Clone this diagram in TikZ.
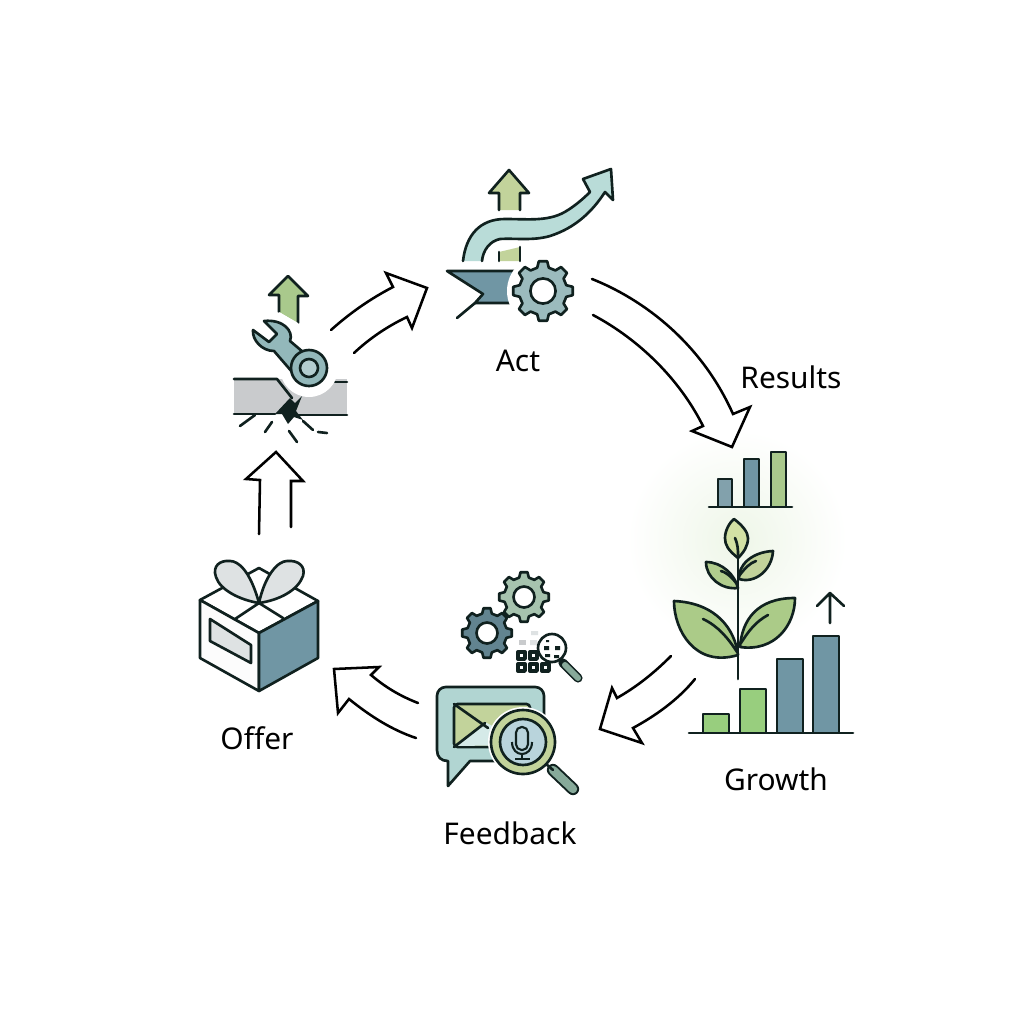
\documentclass[tikz,border=0pt]{standalone}
\usepackage{fontspec}
\setmainfont{Noto Sans}
\definecolor{ink}{HTML}{10211F}
\definecolor{slate}{HTML}{7096A4}
\definecolor{teal}{HTML}{93B8BA}
\definecolor{mint}{HTML}{B9DCD8}
\definecolor{sage}{HTML}{A9C98C}
\definecolor{olive}{HTML}{C2D39B}
\definecolor{leaf}{HTML}{ABCB88}
\definecolor{pale}{HTML}{D2E1A4}
\definecolor{ash}{HTML}{C9CBCD}
\definecolor{mist}{HTML}{DEE2E3}
\definecolor{glow}{HTML}{EEF6E8}
\definecolor{lens}{HTML}{B9D4DC}
\newcommand{\gearwheel}[4]{% x, y, radius, fill
  \begin{scope}[shift={(#1,#2)}]
    \draw[outline,fill=#4] (-14:0.8*#3) \foreach \a in {0,45,...,315} {
      -- (\a-14:0.8*#3) -- (\a-8:#3) -- (\a+8:#3) -- (\a+14:0.8*#3)} -- cycle;
    \draw[outline,fill=white] (0,0) circle (0.42*#3);
  \end{scope}}
\begin{document}
\begin{tikzpicture}[x=0.01cm,y=-0.01cm]
\tikzset{outline/.style = {draw=ink,line width=0.75pt,line join=round,line cap=round}}
\tikzset{blockarrow/.style = {draw=black,fill=white,line width=0.72pt,line join=miter,line cap=round}}
\tikzset{steplabel/.style = {font=\fontsize{8.5pt}{10pt}\selectfont,text=black,inner sep=0pt}}
\tikzset{thinbar/.style = {outline,line width=0.75pt}}
\useasboundingbox (0,0) rectangle (1024,1024);
\fill[white] (0,0) rectangle (1024,1024);
\shade[inner color=glow,outer color=white] (737,540) circle (110);
% labels
\node[steplabel] (act) at (518,361) {Act};
\node[steplabel] (results) at (791,377) {Results};
\node[steplabel] (growth) at (776,779) {Growth};
\node[steplabel] (feedback) at (510,833) {Feedback};
\node[steplabel] (offer) at (257,738) {Offer};
% block arrows
\draw[blockarrow] (592,279) .. controls (640,298) and (700,340) .. (733,414) -- (750,407) -- (732,447) -- (692,431) -- (703,426) .. controls (680,380) and (640,340) .. (593,315);
\draw[blockarrow] (671,656) .. controls (655,672) and (638,686) .. (617,698) -- (612,688) -- (600,729) -- (642,743) -- (633,728) .. controls (655,716) and (678,700) .. (695,679);
\draw[blockarrow] (418,703) .. controls (400,696) and (385,687) .. (371,675) -- (379,667) -- (334,669) -- (338,713) -- (349,699) .. controls (370,716) and (392,730) .. (416,738);
\draw[blockarrow] (259,534) -- (260,480) -- (246,479) -- (276,452) -- (303,481) -- (291,481) -- (291,527);
\draw[blockarrow] (331,330) .. controls (350,313) and (370,299) .. (393,287) -- (386,273) -- (427,288) -- (412,328) -- (407,317) .. controls (388,326) and (370,338) .. (354,353);
% act icon
\draw[outline,fill=olive] (499,210) -- (499,193) -- (489,193) -- (509,170) -- (529,193) -- (520,193) -- (520,210);
\fill[olive] (499,252) -- (520,247) -- (520,261) -- (499,261) -- cycle;
\draw[outline] (499,261) -- (499,252) (520,247) -- (520,261);
\draw[outline,fill=mint] (463,261) .. controls (466,235) and (480,219) .. (505,219) .. controls (530,219) and (550,222) .. (568,210) .. controls (576,205) and (584,198) .. (590,192) -- (583,179) -- (611,169) -- (613,200) -- (605,192) .. controls (592,212) and (575,228) .. (550,236) .. controls (533,241) and (515,238) .. (500,239) .. controls (490,241) and (483,250) .. (482,261);
\draw[outline,fill=slate] (447,271) -- (530,271) -- (530,303) -- (475,303) -- (483,294) -- cycle;
\draw[outline] (475,303) -- (457,318);
\fill[white] (543,291) circle (36);
\gearwheel{543}{291}{30}{teal!85!ash}
% break icon
\draw[outline,fill=sage] (298,323) -- (298,296) -- (308,296) -- (288,276) -- (269,295) -- (279,295) -- (279,312);
\fill[ash] (234,379) rectangle (347,414);
\draw[outline] (234,379) -- (277,379) -- (292,398);
\draw[outline] (234,414) -- (275,414);
\draw[outline] (295,415) -- (347,415);
\draw[outline] (335,382) -- (347,382);
\fill[white] (309,368) circle (29);
\fill[white] (279,312) -- (298,323) -- (320,345) -- (290,360) -- (262,335) -- cycle;
\fill[ink] (275,414) -- (290,398) -- (295,403) -- (302,396) -- (296,411) -- (303,420) -- (294,417) -- (288,424) -- (282,414) -- cycle;
\draw[outline] (255,415) -- (240,426) (272,422) -- (265,432) (289,431) -- (297,442) (303,421) -- (313,430) (318,432) -- (327,433);
\draw[outline,fill=teal] (253,330) -- (269,342) -- (277,334) -- (264,321) .. controls (283,319) and (294,331) .. (290,341) -- (303,352) -- (293,373) -- (274,351) .. controls (262,351) and (252,340) .. cycle;
\draw[outline,fill=teal] (309,368) circle (18);
\draw[outline,fill=teal!70!white] (309,368) circle (9);
% offer icon
\draw[outline,fill=white] (200,600) -- (259,568) -- (318,601) -- (259,633) -- cycle;
\draw[outline,fill=white!94!ash] (200,600) -- (259,633) -- (259,691) -- (200,658) -- cycle;
\draw[outline,fill=slate] (259,633) -- (318,601) -- (318,658) -- (259,691) -- cycle;
\draw[outline] (235,619) -- (259,603) -- (283,618);
\draw[outline,fill=mist] (210,619) -- (251,645) -- (251,663) -- (210,641) -- cycle;
\draw[outline,fill=mist] (259,603) .. controls (250,570) and (238,561) .. (230,561) .. controls (220,560) and (212,566) .. (216,577) .. controls (220,590) and (240,600) .. cycle;
\draw[outline,fill=mist] (259,603) .. controls (265,575) and (278,561) .. (287,561) .. controls (298,560) and (306,566) .. (303,576) .. controls (298,590) and (280,600) .. cycle;
% feedback icon
\draw[outline,fill=mint!80!teal,rounded corners=2.5pt] (470,761) -- (544,761) -- (544,687) -- (437,687) [sharp corners] -- (437,750) .. controls (437,757) and (441,761) .. (448,761) -- (448,786) -- cycle;
\draw[outline,fill=olive,rounded corners=1pt] (454,704) -- (530,704) -- (530,747) -- (454,747) -- cycle;
\fill[mint!60!white] (456,746) -- (485,722) -- (500,730) -- (528,745) -- cycle;
\draw[outline] (454,704) -- (488,728) (454,747) -- (485,723);
\fill[white] (523,742) circle (35);
\draw[line width=3.5pt,draw=ink,line cap=round] (553,770) -- (573,789);
\draw[line width=2.4pt,draw=slate!60!sage,line cap=round] (553,770) -- (573,789);
\draw[outline] (545,763) -- (553,770);
\draw[outline,fill=olive] (523,742) circle (32);
\draw[outline,fill=lens] (523,742) circle (23);
\draw[line width=0.6pt,draw=ink,rounded corners=1.6pt] (516,727) rectangle (528,750);
\draw[line width=0.6pt,draw=ink] (512,742) .. controls (512,758) and (532,758) .. (532,742);
\draw[line width=0.6pt,draw=ink] (522,755) -- (522,759) (515,759) -- (530,759);
\gearwheel{524}{597}{25}{teal!60!olive}
\gearwheel{487}{633}{25}{slate!85!ink}
\fill[ash] (519,640) rectangle (526,645);
\fill[mist] (530,640) rectangle (537,645) (531,631) rectangle (538,635);
\foreach \gx/\gy in {518/652,530/652,518/664,530/664,542/664} {
  \draw[outline,line width=0.95pt] (\gx,\gy) rectangle +(7,7);
}
\draw[line width=2.6pt,draw=ink,line cap=round] (563,663) -- (578,678);
\draw[line width=1.7pt,draw=slate!60!sage,line cap=round] (565,665) -- (578,678);
\draw[outline,fill=white] (552,648) circle (14);
\fill[ink] (544,646) rectangle (549,650) (555,646) rectangle (560,650) (545,654) rectangle (550,657) (554,655) rectangle (559,658) (546,640) rectangle (549,642);
% growth icon
\draw[thinbar,fill=slate!80!ash] (718,507) rectangle (732,479);
\draw[thinbar,fill=slate] (744,507) rectangle (759,459);
\draw[thinbar,fill=sage] (771,507) rectangle (786,452);
\draw[outline] (709,507) -- (792,507);
\draw[outline] (738,557) -- (738,679);
\draw[outline,fill=pale] (738,558) .. controls (728,550) and (725,545) .. (725,538) .. controls (725,530) and (730,522) .. (734,519) .. controls (742,525) and (748,532) .. (748,538) .. controls (748,546) and (744,552) .. cycle;
\draw[outline] (735,538) .. controls (738,545) and (738,550) .. (738,555);
\draw[outline,fill=olive] (739,579) .. controls (738,565) and (752,552) .. (773,551) .. controls (772,570) and (755,584) .. cycle;
\draw[outline] (739,576) .. controls (745,568) and (750,563) .. (756,561);
\draw[outline,fill=leaf!75!olive] (738,588) .. controls (722,590) and (706,578) .. (706,562) .. controls (722,562) and (735,575) .. cycle;
\draw[outline] (737,584) .. controls (730,575) and (725,572) .. (721,571);
\draw[outline,fill=leaf] (738,655) .. controls (735,630) and (717,603) .. (674,601) .. controls (674,630) and (695,668) .. cycle;
\draw[outline] (703,619) .. controls (718,626) and (728,638) .. (737,652);
\draw[outline,fill=leaf] (740,647) .. controls (742,620) and (757,598) .. (795,598) .. controls (795,625) and (775,652) .. cycle;
\draw[outline] (768,615) .. controls (755,622) and (748,632) .. (741,643);
\draw[thinbar,fill=sage!90!green] (703,733) rectangle (729,714);
\draw[thinbar,fill=sage!90!green] (740,733) rectangle (766,689);
\draw[thinbar,fill=slate] (777,733) rectangle (803,659);
\draw[thinbar,fill=slate] (813,733) rectangle (839,636);
\draw[outline] (689,733) -- (853,733);
\draw[outline] (830,623) -- (830,593) (817,606) -- (830,593) -- (844,606);
\end{tikzpicture}
\end{document}
